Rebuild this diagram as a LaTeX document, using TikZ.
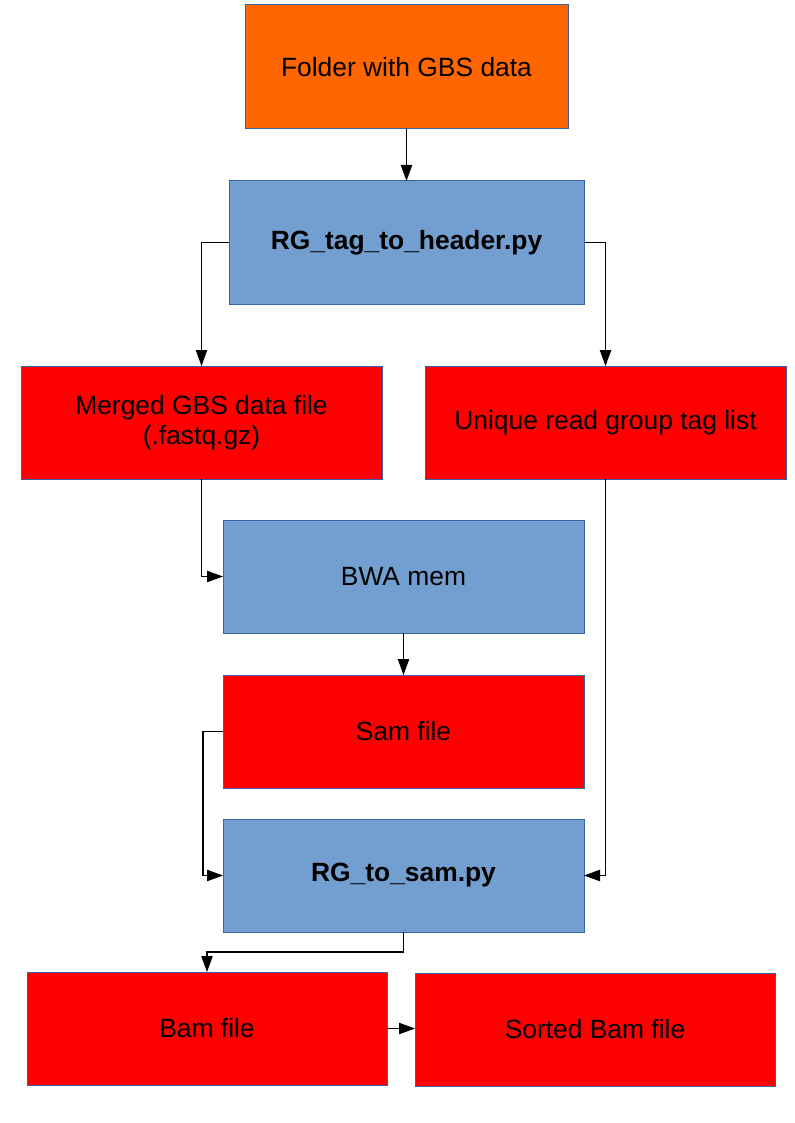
\documentclass[tikz,border=0pt]{standalone}
\usepackage{fontspec}
\setmainfont{Liberation Sans}
\usetikzlibrary{arrows.meta}
\definecolor{boxorange}{HTML}{FF6600}
\definecolor{boxblue}{HTML}{729FCF}
\definecolor{boxred}{HTML}{FF0000}
\definecolor{boxline}{HTML}{3465A4}
\begin{document}
\begin{tikzpicture}
[x=0.75pt,y=-0.75pt,
 box/.style={draw=boxline,line width=0.75pt,inner sep=0pt,outer sep=0pt,
   align=center,font=\fontsize{19.8}{22.5}\selectfont,
   minimum width=270.75pt,minimum height=84.75pt},
 input/.style={box,fill=boxorange},
 tool/.style={box,fill=boxblue},
 data/.style={box,fill=boxred},
 arr/.style={line width=0.8pt,-{Triangle[length=12pt,width=8.5pt]}}]
\useasboundingbox (0,0) rectangle (794,1123);

\node[input,minimum width=242.25pt,minimum height=93pt] (folder) at (406.5,67) {Folder with GBS data};
\node[tool,minimum width=266.25pt,minimum height=92.25pt] (hdr) at (406.5,242.5) {\textbf{RG\_tag\_to\_header.py}};

\node[data] (merged) at (201.5,422.5) {Merged GBS data file\\(.fastq.gz)};
\node[data] (uniq) at (605.5,422.5) {Unique read group tag list};

\node[tool] (bwa) at (403.5,576.5) {BWA mem};
\node[data] (sam) at (403.5,731.5) {Sam file};
\node[tool] (rgsam) at (403.5,875.5) {\textbf{RG\_to\_sam.py}};

\node[data,minimum width=270pt] (bam) at (207,1028.5) {Bam file};
\node[data,minimum width=270pt] (sorted) at (595,1029.5) {Sorted Bam file};

% connectors
\draw[arr] (folder) -- (hdr);
\draw[arr] (hdr.west) -| (merged.north);
\draw[arr] (hdr.east) -| (uniq.north);
\draw[arr] (merged.south) |- (bwa.west);
\draw[arr] (bwa) -- (sam);
\draw[arr] (sam.west) -- ++(-20,0) |- (rgsam.west);
\draw[arr] (uniq.south) |- (rgsam.east);
\draw[arr] (rgsam.south) -- ++(0,20) -| (bam.north);
\draw[arr] (bam.east) -- (bam.east -| sorted.west);
\end{tikzpicture}
\end{document}
